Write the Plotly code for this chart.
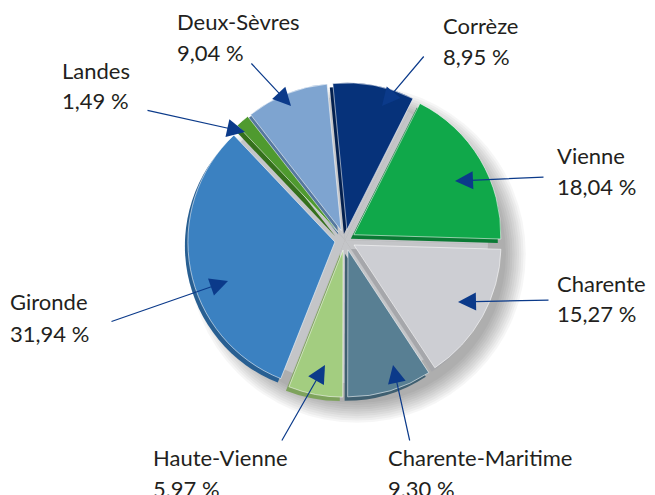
import plotly.graph_objects as go

# ---- data ----
regions = ["Corrèze", "Vienne", "Charente", "Charente-Maritime",
           "Haute-Vienne", "Gironde", "Landes", "Deux-Sèvres"]
shares = [8.95, 18.04, 15.27, 9.30, 5.97, 31.94, 1.49, 9.04]
colors = ["#06327a", "#10a84a", "#cdced3", "#587f93",
          "#a3cd80", "#3b81c1", "#4f9a2f", "#7ea4d0"]
rim_colors = ["#03204f", "#0a7a34", "#a6a7ab", "#3f5f70",
              "#7ea35c", "#285f92", "#35701c", "#56789f"]

# ---- layout helpers (pixel positions in the 655x495 window) ----
OFF = 8                       # browser body margin
W, H = 655 - OFF, 495 - OFF   # figure size
CX, CY = 345, 240             # pie centre (window pixels)
R = 147                       # slice radius
PULL = 0.07

def px(x):
    return (x - OFF) / W

def py(y):
    return 1 - (y - OFF) / H

def dom(cx, cy, r, pull):
    half = r * (1 + pull)
    return dict(x=[px(cx - half), px(cx + half)], y=[py(cy + half), py(cy - half)])

# label text anchors: (x_left, y_name, y_value)
label_pos = {
    "Corrèze": (443, 26, 56),
    "Vienne": (557, 155, 186),
    "Charente": (557, 283, 313),
    "Charente-Maritime": (388, 457, 488),
    "Haute-Vienne": (153, 457, 488),
    "Gironde": (10, 301, 333),
    "Landes": (62, 70, 100),
    "Deux-Sèvres": (177, 22, 53),
}
# arrows: (tail_x, tail_y, head_x, head_y)
arrow_pos = {
    "Corrèze": (425, 55, 382, 106),
    "Vienne": (545, 177, 455, 181),
    "Charente": (550, 300, 458, 302),
    "Charente-Maritime": (410, 442, 393, 365),
    "Haute-Vienne": (281, 442, 325, 365),
    "Gironde": (110, 322, 228, 281),
    "Landes": (146, 110, 245, 132),
    "Deux-Sèvres": (250, 62, 291, 106),
}

fig = go.Figure()

# grey base visible in the gaps between exploded slices
fig.add_trace(go.Pie(
    values=shares, labels=regions, sort=False, direction="clockwise",
    rotation=-5.5, marker=dict(colors=["#c4c5c8"] * len(shares), line=dict(width=0)),
    textinfo="none", hoverinfo="skip", showlegend=False,
    domain=dom(CX, CY, R - 4, 0),
))
# darker rim (3D extrusion)
fig.add_trace(go.Pie(
    values=shares, labels=regions, sort=False, direction="clockwise",
    rotation=-5.5, pull=[PULL] * len(shares),
    marker=dict(colors=rim_colors, line=dict(width=0)),
    textinfo="none", hoverinfo="skip", showlegend=False,
    domain=dom(CX - 3, CY + 4, R, PULL),
))
# main slices
fig.add_trace(go.Pie(
    values=shares, labels=regions, sort=False, direction="clockwise",
    rotation=-5.5, pull=[PULL] * len(shares),
    marker=dict(colors=colors, line=dict(color="rgba(255,255,255,0.55)", width=1)),
    textinfo="none", showlegend=False,
    domain=dom(CX, CY, R, PULL),
))

# soft drop shadow
shapes = []
for i in range(10):
    rr = R + 2 + i * 2.2
    sx, sy = CX + 12, CY + 14
    shapes.append(dict(
        type="circle", xref="paper", yref="paper", layer="below",
        x0=px(sx - rr), x1=px(sx + rr), y0=py(sy + rr), y1=py(sy - rr),
        fillcolor="rgba(0,0,0,0.035)", line=dict(width=0),
    ))

annotations = []
font = dict(family="Lato, Open Sans, sans-serif", size=22, color="#231f20")
for name, v in zip(regions, shares):
    x, yn, yv = label_pos[name]
    val = f"{v:.2f}".replace(".", ",") + " %"
    for txt, yy in ((name, yn), (val, yv)):
        annotations.append(dict(
            text=txt, x=px(x), y=py(yy), xref="paper", yref="paper",
            xanchor="left", yanchor="middle", showarrow=False, font=font,
            borderpad=0, xshift=-1,
        ))
    tx, ty, hx, hy = arrow_pos[name]
    annotations.append(dict(
        text="", x=px(hx), y=py(hy), xref="paper", yref="paper",
        ax=tx - hx, ay=ty - hy, axref="pixel", ayref="pixel",
        showarrow=True, arrowhead=2, arrowsize=3, arrowwidth=1.2,
        arrowcolor="#0b3a8a", standoff=0, startstandoff=0,
    ))

fig.update_layout(
    width=W, height=H, margin=dict(l=0, r=0, t=0, b=0),
    paper_bgcolor="white", plot_bgcolor="white",
    shapes=shapes, annotations=annotations, showlegend=False,
)

fig.write_html("out.html")
